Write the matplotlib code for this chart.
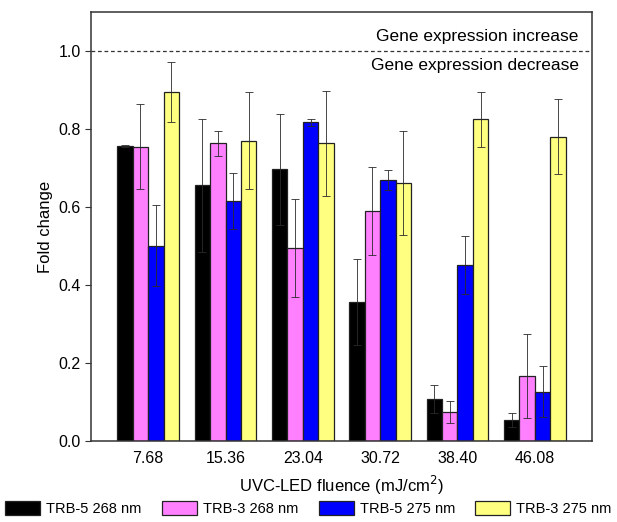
import numpy as np
import matplotlib.pyplot as plt

plt.rcParams['font.family'] = ['Liberation Sans', 'DejaVu Sans']

fluence = ['7.68', '15.36', '23.04', '30.72', '38.40', '46.08']
series = ['TRB-5 268 nm', 'TRB-3 268 nm', 'TRB-5 275 nm', 'TRB-3 275 nm']
colors = ['#000000', '#ff80ff', '#0000ff', '#ffff80']

trb5_268 = [0.756, 0.656, 0.697, 0.357, 0.108, 0.054]
trb5_268_err = [0.002, 0.170, 0.142, 0.111, 0.036, 0.019]
trb3_268 = [0.755, 0.763, 0.495, 0.589, 0.075, 0.167]
trb3_268_err = [0.108, 0.033, 0.125, 0.113, 0.028, 0.107]
trb5_275 = [0.501, 0.616, 0.817, 0.669, 0.451, 0.127]
trb5_275_err = [0.104, 0.072, 0.008, 0.025, 0.074, 0.065]
trb3_275 = [0.895, 0.770, 0.763, 0.662, 0.825, 0.780]
trb3_275_err = [0.078, 0.125, 0.134, 0.133, 0.071, 0.096]

values = [trb5_268, trb3_268, trb5_275, trb3_275]
errors = [trb5_268_err, trb3_268_err, trb5_275_err, trb3_275_err]

fig = plt.figure(figsize=(6.17, 5.22), dpi=100)
ax = fig.add_axes([0.1475, 0.155, 0.812, 0.822])

x = np.arange(len(fluence))
w = 0.2
for i in range(4):
    pos = x + (i - 1.5) * w
    ax.bar(pos, values[i], width=w, color=colors[i], edgecolor='#222222',
           linewidth=0.9, label=series[i], zorder=2)
    ax.errorbar(pos, values[i], yerr=errors[i], fmt='none', ecolor='#2a2a2a',
                elinewidth=0.6, capsize=2.6, capthick=0.6, zorder=3)

ax.axhline(1.0, color='#333333', linestyle=(0, (3, 2.2)), linewidth=0.9, zorder=1)
ax.text(5.57, 1.036, 'Gene expression increase', ha='right', va='center', fontsize=12.5)
ax.text(5.57, 0.964, 'Gene expression decrease', ha='right', va='center', fontsize=12.5)

ax.set_xlim(-0.74, 5.74)
ax.set_ylim(0, 1.1)
ax.set_xticks(x)
ax.set_xticklabels(fluence)
ax.set_yticks([0.0, 0.2, 0.4, 0.6, 0.8, 1.0])
ax.set_yticklabels(['0.0', '0.2', '0.4', '0.6', '0.8', '1.0'])
ax.tick_params(axis='x', length=0, labelsize=11.5, pad=7)
ax.tick_params(axis='y', direction='out', length=4, labelsize=11.5, color='#333333')
for s in ax.spines.values():
    s.set_color('#333333')
    s.set_linewidth(1.1)

ax.set_xlabel('UVC-LED fluence (mJ/cm$^2$)', fontsize=12, labelpad=6)
ax.set_ylabel('Fold change', fontsize=12, labelpad=4)

fig.legend(loc='lower center', bbox_to_anchor=(0.5, -0.008), ncol=4, frameon=False,
           fontsize=10.5, handlelength=2.4, handleheight=1.1, columnspacing=1.4,
           handletextpad=0.4, borderaxespad=0.3)

fig.savefig('out.png', dpi=100)
